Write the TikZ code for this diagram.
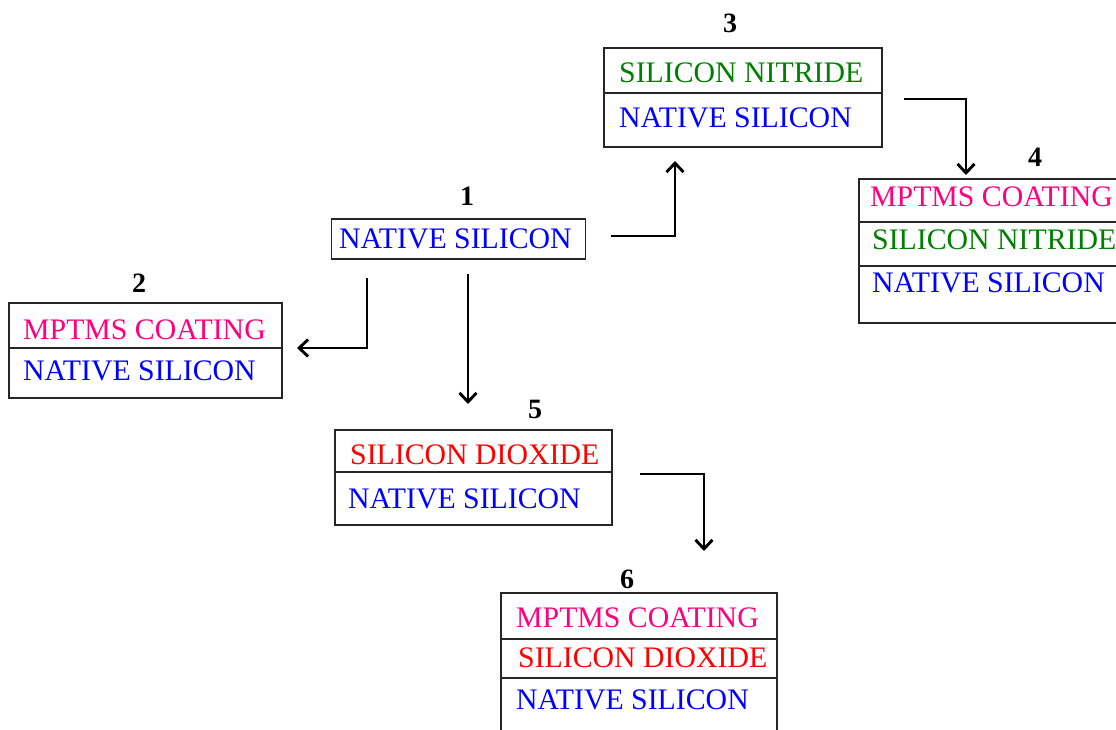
\documentclass[tikz,border=0pt]{standalone}
\usepackage{fontspec}
\setmainfont{Liberation Serif}
\usetikzlibrary{arrows.meta}
\definecolor{cblue}{RGB}{0,0,255}
\definecolor{cpink}{RGB}{255,0,128}
\definecolor{cgreen}{RGB}{0,128,0}
\definecolor{cred}{RGB}{255,0,0}
\tikzset{
  layerbox/.style={draw=black!85, line width=1.5pt, rectangle, inner sep=0pt},
  divider/.style={draw=black!85, line width=1.5pt},
  lbl/.style={anchor=base west, inner sep=0pt, font=\fontsize{29.8}{30}\selectfont},
  num/.style={anchor=base, inner sep=0pt, font=\fontsize{28}{30}\selectfont\bfseries},
  flow/.style={draw=black, line width=2.9pt, -{Straight Barb[length=9pt,width=17pt]}}
}
\begin{document}
\begin{tikzpicture}[x=1pt,y=-1pt]
\clip (0,0) rectangle (1116,730);
\fill[white] (0,0) rectangle (1116,730);

% Box 1
\node[layerbox, minimum width=254pt, minimum height=40pt] (b1) at (458.5,239) {};
\node[num] (n1) at (467,206) {1};
\node[lbl, text=cblue] (t1a) at (339,248) {NATIVE SILICON};

% Box 2
\node[layerbox, minimum width=273pt, minimum height=95pt] (b2) at (145.5,350.5) {};
\draw[divider] (9,348) -- (282,348);
\node[num] (n2) at (139,292) {2};
\node[lbl, text=cpink] (t2a) at (23,339) {MPTMS COATING};
\node[lbl, text=cblue] (t2b) at (23,380) {NATIVE SILICON};

% Box 3
\node[layerbox, minimum width=278pt, minimum height=99pt] (b3) at (743,97.5) {};
\draw[divider] (604,93) -- (882,93);
\node[num] (n3) at (730,33) {3};
\node[lbl, text=cgreen] (t3a) at (619,83) {SILICON NITRIDE};
\node[lbl, text=cblue] (t3b) at (619,128) {NATIVE SILICON};

% Box 4
\node[layerbox, minimum width=300pt, minimum height=144pt] (b4) at (1009,251) {};
\draw[divider] (859,222) -- (1159,222);
\draw[divider] (859,266) -- (1159,266);
\node[num] (n4) at (1035,167) {4};
\node[lbl, text=cpink] (t4a) at (870,207) {MPTMS COATING};
\node[lbl, text=cgreen] (t4b) at (872,249) {SILICON NITRIDE};
\node[lbl, text=cblue] (t4c) at (872,292) {NATIVE SILICON};

% Box 5
\node[layerbox, minimum width=277pt, minimum height=95pt] (b5) at (473.5,477.5) {};
\draw[divider] (335,472) -- (612,472);
\node[num] (n5) at (535,418) {5};
\node[lbl, text=cred] (t5a) at (350,464) {SILICON DIOXIDE};
\node[lbl, text=cblue] (t5b) at (348,508) {NATIVE SILICON};

% Box 6
\node[layerbox, minimum width=276pt, minimum height=180pt] (b6) at (639,683) {};
\draw[divider] (501,639) -- (777,639);
\draw[divider] (501,678) -- (777,678);
\node[num] (n6) at (627,588) {6};
\node[lbl, text=cpink] (t6a) at (516,627) {MPTMS COATING};
\node[lbl, text=cred] (t6b) at (518,667) {SILICON DIOXIDE};
\node[lbl, text=cblue] (t6c) at (516,709) {NATIVE SILICON};

% connector ends
\coordinate (s13) at (611,236);
\coordinate (e13) at (675,161);
\coordinate (s34) at (904,99);
\coordinate (e34) at (966,175);
\coordinate (s12) at (367,278);
\coordinate (e12) at (297,348);
\coordinate (s15) at (468,274);
\coordinate (e15) at (468,404);
\coordinate (s56) at (640,474);
\coordinate (e56) at (704,551);

\draw[flow] (s13) -| (e13);
\draw[flow] (s34) -| (e34);
\draw[flow] (s12) |- (e12);
\draw[flow] (s15) -- (e15);
\draw[flow] (s56) -| (e56);
\end{tikzpicture}
\end{document}
